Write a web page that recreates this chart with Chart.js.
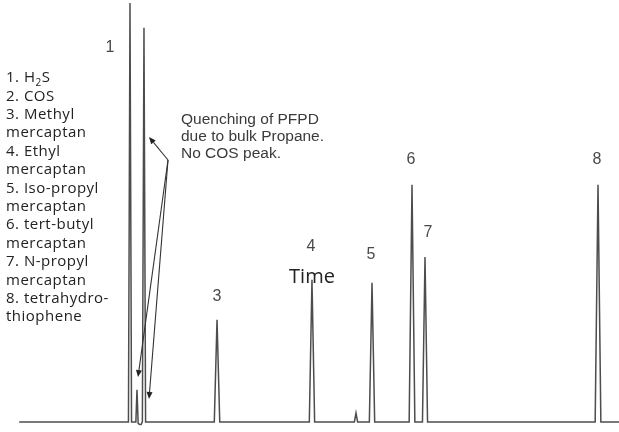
<!DOCTYPE html>
<html>
<head>
<meta charset="utf-8">
<script src="https://cdn.jsdelivr.net/npm/chart.js@4.4.1/dist/chart.umd.min.js"></script>
<style>
  html, body { margin: 0; padding: 0; background: #ffffff; }
  #wrap { position: relative; width: 619px; height: 432px; }
</style>
</head>
<body>
<div id="wrap"><canvas id="c"></canvas></div>
<script>
// ---- Data (time in arbitrary minutes, detector signal in %) ----
const traceTime = [0.31, 2.075, 2.10, 2.125, 2.195, 2.213, 2.232, 2.26, 2.28,
  2.30, 2.326, 2.352, 3.462, 3.506, 3.55, 4.997, 5.04, 5.083,
  5.725, 5.751, 5.777, 5.967, 6.01, 6.053, 6.61, 6.656, 6.702,
  6.825, 6.866, 6.907, 9.615, 9.661, 9.707, 10.0];
const traceSignal = [0, 0, 99.3, 0, 0, 7.6, -0.4, -0.6, -0.6,
  0, 93.4, 0, 0, 24.2, 0, 0, 33.7, 0,
  0, 2.1, 0, 0, 33.0, 0, 0, 56.2, 0,
  0, 39.1, 0, 0, 56.2, 0, 0];

// labelled peaks: label, retention time, apex signal
const peakLabels = ['1', '3', '4', '5', '6', '7', '8'];
const peakTimes  = [2.100, 3.506, 5.040, 6.010, 6.656, 6.866, 9.661];
const peakHeights = [99.3, 24.2, 33.7, 33.0, 56.2, 39.1, 56.2];

const compoundList = ['1. H_2S', '2. COS', '3. Methyl', 'mercaptan', '4. Ethyl', 'mercaptan',
  '5. Iso-propyl', 'mercaptan', '6. tert-butyl', 'mercaptan', '7. N-propyl', 'mercaptan',
  '8. tetrahydro-', 'thiophene'];
const noteLines = ['Quenching of PFPD', 'due to bulk Propane.', 'No COS peak.'];
const axisTitle = 'Time';

const points = traceTime.map((t, i) => ({ x: t, y: traceSignal[i] }));

// ---- drawing of texts / arrows ----
const annot = {
  id: 'annot',
  afterDatasetsDraw(chart) {
    const ctx = chart.ctx, xs = chart.scales.x, ys = chart.scales.y;
    ctx.save();
    // peak numbers
    const off = { '1': [-20, 0], '3': [0, -23], '4': [-1, -33], '5': [-1, -28],
                  '6': [-1, -25], '7': [3, -24], '8': [-1, -25] };
    ctx.font = '16px "Liberation Sans", Arial, sans-serif';
    ctx.fillStyle = '#4a4a4a';
    ctx.textAlign = 'center';
    ctx.textBaseline = 'middle';
    peakLabels.forEach((lab, i) => {
      const px = xs.getPixelForValue(peakTimes[i]);
      const py = ys.getPixelForValue(peakHeights[i]);
      const o = off[lab];
      ctx.fillText(lab, px + o[0], lab === '1' ? 48 : py + o[1]);
    });

    // compound list
    ctx.fillStyle = '#222222';
    ctx.textAlign = 'left';
    ctx.textBaseline = 'middle';
    ctx.letterSpacing = '0.5px';
    const fontMain = '15px "Open Sans", sans-serif';
    const fontSub = '10px "Open Sans", sans-serif';
    compoundList.forEach((s, i) => {
      const y = 78 + i * 18.4;
      let x = 6;
      if (s.indexOf('_') >= 0) {
        const parts = s.split('_');
        ctx.font = fontMain;
        ctx.fillText(parts[0], x, y);
        x += ctx.measureText(parts[0]).width;
        ctx.font = fontSub;
        ctx.fillText(parts[1][0], x, y + 5);
        x += ctx.measureText(parts[1][0]).width;
        ctx.font = fontMain;
        ctx.fillText(parts[1].slice(1), x, y);
      } else {
        ctx.font = fontMain;
        ctx.fillText(s, x, y);
      }
    });
    ctx.letterSpacing = '0px';

    // axis title placed inside plot
    ctx.font = '20px "Open Sans", sans-serif';
    ctx.fillStyle = '#222222';
    ctx.textAlign = 'center';
    ctx.fillText(axisTitle, 312, 277);

    // note text
    ctx.font = '15.5px "Liberation Sans", Arial, sans-serif';
    ctx.fillStyle = '#3a3a3a';
    ctx.textAlign = 'left';
    ctx.textBaseline = 'alphabetic';
    noteLines.forEach((s, i) => ctx.fillText(s, 181, 124 + i * 16.8));

    // arrows from common origin
    const origin = [168, 160];
    const tips = [[149, 137], [138, 377], [149, 399]];
    ctx.strokeStyle = '#333333';
    ctx.fillStyle = '#222222';
    ctx.lineWidth = 1.1;
    tips.forEach(t => {
      const ang = Math.atan2(t[1] - origin[1], t[0] - origin[0]);
      const L = 7, W = 3;
      const bx = t[0] - L * Math.cos(ang), by = t[1] - L * Math.sin(ang);
      ctx.beginPath();
      ctx.moveTo(origin[0], origin[1]);
      ctx.lineTo(bx, by);
      ctx.stroke();
      ctx.beginPath();
      ctx.moveTo(t[0], t[1]);
      ctx.lineTo(bx + W * Math.sin(ang), by - W * Math.cos(ang));
      ctx.lineTo(bx - W * Math.sin(ang), by + W * Math.cos(ang));
      ctx.closePath();
      ctx.fill();
    });
    ctx.restore();
  }
};

new Chart(document.getElementById('c'), {
  type: 'line',
  data: {
    datasets: [{
      data: points,
      borderColor: '#4d4d4d',
      borderWidth: 1.5,
      pointRadius: 0,
      tension: 0,
      fill: false
    }]
  },
  options: {
    responsive: true,
    maintainAspectRatio: false,
    animation: false,
    layout: { padding: 0 },
    plugins: { legend: { display: false }, tooltip: { enabled: false } },
    scales: {
      x: { type: 'linear', min: 0, max: 10, display: false },
      y: { min: -2.4, max: 100, display: false }
    }
  },
  plugins: [annot]
});
</script>
</body>
</html>
